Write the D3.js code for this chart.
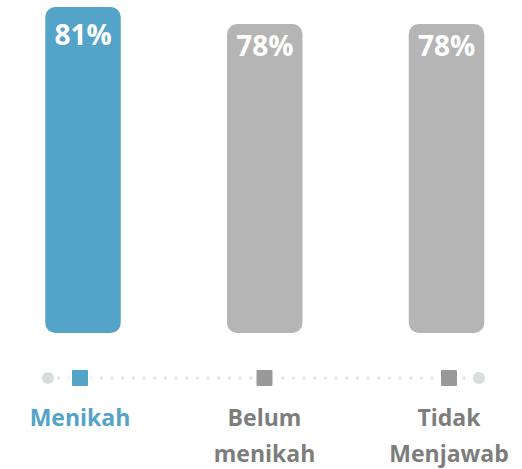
<!DOCTYPE html>
<html>
<head>
<meta charset="utf-8">
<script src="https://cdn.jsdelivr.net/npm/d3@7"></script>
<style>
  html, body { margin: 0; padding: 0; background: #fff; }
  svg { display: block; font-family: "Open Sans", sans-serif; }
</style>
</head>
<body>
<div id="chart"></div>
<script>
// data
const categories = ["Menikah", "Belum menikah", "Tidak Menjawab"];
const labelLines = [["Menikah"], ["Belum", "menikah"], ["Tidak", "Menjawab"]];
const values = [81, 78, 78];
const highlighted = "Menikah";

const width = 522, height = 469;
const blue = "#54a3c8", barGrey = "#b5b5b5", markGrey = "#999999",
    textGrey = "#7d7d7d", dotColor = "#d6dfde";

const svg = d3.select("#chart").append("svg")
    .attr("width", width)
    .attr("height", height);

const data = categories.map((c, i) => ({ category: c, value: values[i], lines: labelLines[i] }));

// bars, positioned by their centres
const barWidth = 75.5;
const x = d3.scalePoint().domain(categories).range([83, 446.5]);
const y = d3.scaleLinear().domain([23.5, 81]).range([333, 7]);

// the percentage labels sit a little differently from the bar tops
const labelY = d3.scaleLinear().domain([78, 81]).range([56, 45]);

svg.selectAll("rect.bar")
    .data(data)
    .join("rect")
    .attr("class", "bar")
    .attr("x", (d) => x(d.category) - barWidth / 2)
    .attr("y", (d) => y(d.value))
    .attr("width", barWidth)
    .attr("height", (d) => y.range()[0] - y(d.value))
    .attr("rx", 10)
    .attr("fill", (d) => d.category === highlighted ? blue : barGrey);

svg.selectAll("text.value")
    .data(data)
    .join("text")
    .attr("class", "value")
    .attr("x", (d) => x(d.category))
    .attr("y", (d) => labelY(d.value))
    .attr("text-anchor", "middle")
    .attr("fill", "#fff")
    .attr("font-weight", 700)
    .attr("font-size", 28)
    .text((d) => `${d.value}%`);

// dotted axis with square markers
const axisY = 378;
const ax = d3.scalePoint().domain(categories).range([80, 449]);
const axisEnds = [48, 479];

const dotsX = d3.range(axisEnds[0] + 10.7, axisEnds[1] - 4, 10.67);
svg.selectAll("circle.dot")
    .data(dotsX)
    .join("circle")
    .attr("class", "dot")
    .attr("cx", (d) => d)
    .attr("cy", axisY)
    .attr("r", 1.4)
    .attr("fill", dotColor);

svg.selectAll("circle.end")
    .data(axisEnds)
    .join("circle")
    .attr("class", "end")
    .attr("cx", (d) => d)
    .attr("cy", axisY)
    .attr("r", 6)
    .attr("fill", dotColor);

// white pad behind each marker so dots don't show through
svg.selectAll("rect.marker")
    .data(data)
    .join("rect")
    .attr("class", "marker")
    .attr("x", (d) => ax(d.category) - 9.5)
    .attr("y", axisY - 9.5)
    .attr("width", 19)
    .attr("height", 19)
    .attr("rx", 2.5)
    .attr("stroke", "#fff")
    .attr("stroke-width", 3)
    .attr("fill", (d) => d.category === highlighted ? blue : markGrey);

// category labels
const labels = svg.selectAll("text.cat")
    .data(data)
    .join("text")
    .attr("class", "cat")
    .attr("x", (d) => ax(d.category))
    .attr("y", 426)
    .attr("text-anchor", "middle")
    .attr("font-weight", 700)
    .attr("font-size", 23)
    .attr("fill", (d) => d.category === highlighted ? blue : textGrey);

labels.selectAll("tspan")
    .data((d) => d.lines)
    .join("tspan")
    .attr("x", function () { return d3.select(this.parentNode).attr("x"); })
    .attr("dy", (d, i) => i === 0 ? 0 : 36)
    .text((d) => d);
</script>
</body>
</html>
